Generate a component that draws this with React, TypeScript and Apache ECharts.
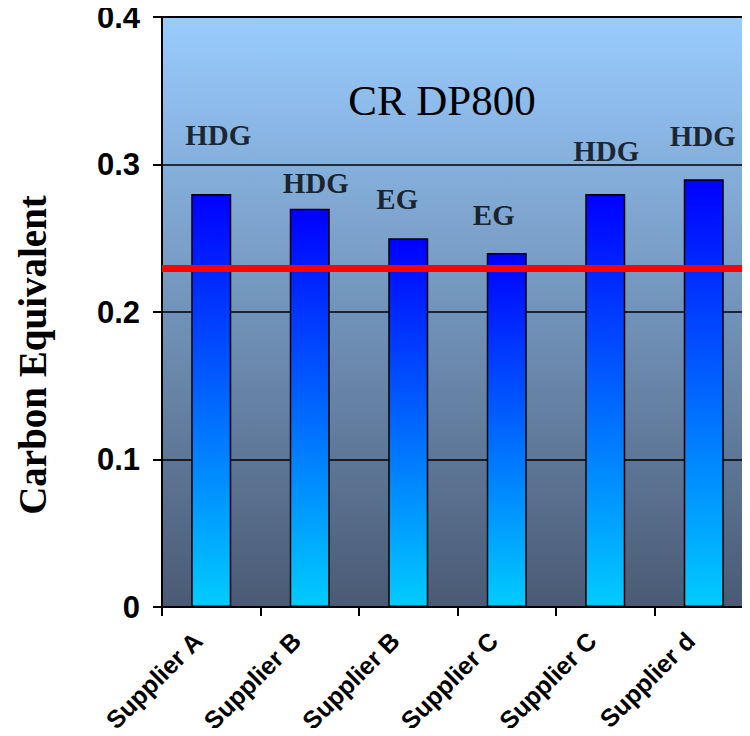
import React, { useEffect, useRef } from "react";
import * as echarts from "echarts";

const categories = ["Supplier A", "Supplier B", "Supplier B", "Supplier C", "Supplier C", "Supplier d"];
const carbonValues = [0.28, 0.27, 0.25, 0.24, 0.28, 0.29];
const coatingLabels = ["HDG", "HDG", "EG", "EG", "HDG", "HDG"];
const coatingLabelLevels = [0.32, 0.2877, 0.2765, 0.2655, 0.309, 0.3195];
const limitValue = 0.23;
const yTicks = [0, 0.1, 0.2, 0.3, 0.4];
const titleText = "CR DP800";
const yAxisTitle = "Carbon Equivalent";

const labelOffsets = [7, 6, -11, -13, 1, -1];

export default function App() {
  const ref = useRef<HTMLDivElement>(null);
  useEffect(() => {
    if (!ref.current) return;
    const chart = echarts.init(ref.current, null, { renderer: "svg" });
    const option: any = {
      animation: false,
      grid: {
        left: 162,
        right: -3,
        top: 17,
        bottom: 129,
        containLabel: false,
        outerBoundsMode: "none",
        show: true,
        backgroundColor: new echarts.graphic.LinearGradient(0, 0, 0, 1, [
          { offset: 0, color: "#99ccff" },
          { offset: 1, color: "#4a5a74" },
        ]),
        borderColor: "#000",
        borderWidth: 2,
      },
      title: {
        text: titleText,
        left: 437,
        top: 74,
        textAlign: "center",
        textStyle: {
          fontFamily: "Liberation Serif",
          fontWeight: "normal",
          fontSize: 43,
          color: "#000",
        },
      },
      xAxis: {
        type: "category",
        data: categories,
        axisLine: { show: true, lineStyle: { color: "#000", width: 2 } },
        axisTick: { show: true, length: 9, lineStyle: { color: "#000", width: 2 } },
        axisLabel: {
          rotate: 45,
          margin: 16,
          interval: 0,
          padding: [0, 19, 0, 0],
          fontFamily: "Liberation Sans",
          fontWeight: "bold",
          fontSize: 25,
          color: "#000",
        },
      },
      yAxis: {
        type: "value",
        min: 0,
        max: 0.4,
        interval: 0.1,
        name: yAxisTitle,
        nameLocation: "middle",
        nameGap: 110,
        nameRotate: 90,
        nameTextStyle: {
          fontFamily: "Liberation Serif",
          fontWeight: "bold",
          fontSize: 39,
          color: "#000",
          padding: [0, 86, 0, 0],
        },
        axisLine: { show: true, lineStyle: { color: "#000", width: 2 } },
        axisTick: { show: true, length: 9, lineStyle: { color: "#000", width: 2 } },
        splitLine: { show: true, lineStyle: { color: "#000", width: 1.5 } },
        axisLabel: {
          margin: 22,
          fontFamily: "Liberation Sans",
          fontWeight: "bold",
          fontSize: 31,
          color: "#000",
          formatter: (v: number) => {
            const t = yTicks.find((x) => Math.abs(x - v) < 1e-9);
            return t === 0 ? "0" : String(Math.round(v * 10) / 10);
          },
        },
      },
      series: [
        {
          type: "bar",
          data: carbonValues,
          barWidth: 40,
          itemStyle: {
            color: new echarts.graphic.LinearGradient(0, 0, 0, 1, [
              { offset: 0, color: "#0000ff" },
              { offset: 1, color: "#00ccff" },
            ]),
            borderColor: "#000",
            borderWidth: 1.5,
          },
          markLine: {
            silent: true,
            symbol: ["none", "none"],
            label: { show: false },
            lineStyle: { color: "#ff0000", width: 7, type: "solid" },
            data: [{ yAxis: limitValue }],
          },
        },
        {
          type: "scatter",
          symbolSize: 0,
          data: coatingLabelLevels.map((v, i) => ({
            value: [i, v],
            label: {
              show: true,
              position: "inside",
              offset: [labelOffsets[i], 0],
              formatter: coatingLabels[i],
              fontFamily: "Liberation Serif",
              fontWeight: "bold",
              fontSize: 29,
              color: "#000",
              textBorderWidth: 0,
            },
          })),
        },
      ],
    };
    chart.setOption(option);
    return () => chart.dispose();
  }, []);
  return <div ref={ref} style={{ width: 750, height: 736, margin: -8 }} />;
}
